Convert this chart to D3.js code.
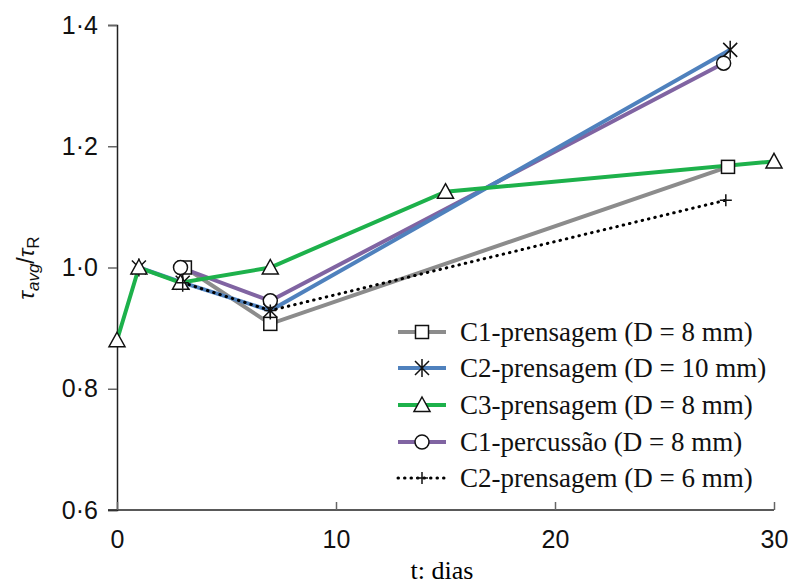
<!DOCTYPE html>
<html>
<head>
<meta charset="utf-8">
<script src="https://cdn.jsdelivr.net/npm/d3@7"></script>
<style>
  body { margin: 0; background: #fff; }
  svg { display: block; }
</style>
</head>
<body>
<svg id="chart" width="790" height="586"></svg>
<script>
// data
var seriesNames = ["C1-prensagem (D = 8 mm)", "C2-prensagem (D = 10 mm)", "C3-prensagem (D = 8 mm)", "C1-percussão (D = 8 mm)", "C2-prensagem (D = 6 mm)"];
var c1prensDays = [3.1, 7, 27.9];
var c1prensVals = [1.0, 0.907, 1.166];
var c2prens10Days = [1, 3, 7, 28];
var c2prens10Vals = [1.0, 0.975, 0.929, 1.359];
var c3prensDays = [0, 1, 2.9, 7, 15, 30];
var c3prensVals = [0.88, 1.0, 0.975, 1.0, 1.125, 1.175];
var c1percDays = [2.9, 7, 27.7];
var c1percVals = [1.0, 0.945, 1.337];
var c2prens6Days = [3, 7, 27.8];
var c2prens6Vals = [0.975, 0.929, 1.111];
var xTicks = [0, 10, 20, 30];
var yTicks = [0.6, 0.8, 1.0, 1.2, 1.4];

function zip(days, vals) { return days.map(function(d, i) { return {x: d, y: vals[i]}; }); }

var series = [
  {name: seriesNames[0], pts: zip(c1prensDays, c1prensVals), color: '#8c8c8c', marker: 'square', dash: null},
  {name: seriesNames[1], pts: zip(c2prens10Days, c2prens10Vals), color: '#4f81bd', marker: 'star', dash: null},
  {name: seriesNames[2], pts: zip(c3prensDays, c3prensVals), color: '#1db14b', marker: 'triangle', dash: null},
  {name: seriesNames[3], pts: zip(c1percDays, c1percVals), color: '#8064a2', marker: 'circle', dash: null},
  {name: seriesNames[4], pts: zip(c2prens6Days, c2prens6Vals), color: '#000', marker: 'plus', dash: '2,5'}
];
var drawOrder = [0, 3, 1, 2, 4];

var svg = d3.select('#chart');
var x = d3.scaleLinear().domain([0, 30]).range([117, 774]);
var y = d3.scaleLinear().domain([0.6, 1.4]).range([510, 25]);

var fmt = function(d) { return d3.format('.1f')(d).replace('.', '·'); };

var yAxis = svg.append('g').attr('transform', 'translate(117,0)')
  .call(d3.axisLeft(y).tickValues(yTicks).tickFormat(fmt).tickSizeOuter(0).tickSize(9).tickPadding(10));
var xAxis = svg.append('g').attr('transform', 'translate(0,510)')
  .call(d3.axisBottom(x).tickValues(xTicks).tickSizeOuter(0).tickSize(8).tickPadding(12));
[yAxis, xAxis].forEach(function(a) {
  a.select('.domain').attr('stroke', '#222').attr('stroke-width', 1.5);
  a.selectAll('.tick line').attr('stroke', '#666').attr('stroke-width', 1.5);
  a.selectAll('text').attr('fill', '#111').style('font-family', 'Liberation Sans, Arial, sans-serif').style('font-size', '25px');
});
xAxis.selectAll('.tick line').attr('y1', 0).attr('y2', -8);
// x axis runs a little left of the y axis like the original
xAxis.select('.domain').attr('d', 'M108,0H774');

// axis titles
svg.append('text')
  .attr('x', 442).attr('y', 579)
  .attr('text-anchor', 'middle')
  .style('font-family', 'Liberation Serif, Times New Roman, serif')
  .style('font-size', '26px')
  .text('t: dias');

var yl = svg.append('text')
  .attr('transform', 'translate(34,268) rotate(-90)')
  .attr('text-anchor', 'middle')
  .style('font-family', 'Liberation Sans, Arial, sans-serif')
  .style('font-size', '23px').attr('fill', '#111');
yl.append('tspan').style('font-style', 'italic').text('τ');
yl.append('tspan').style('font-style', 'italic').style('font-size', '17px').attr('dy', 5).text('avg');
yl.append('tspan').attr('dy', -5).text('/');
yl.append('tspan').style('font-style', 'italic').text('τ');
yl.append('tspan').style('font-size', '17px').attr('dy', 5).text('R');

var line = d3.line().x(function(d) { return x(d.x); }).y(function(d) { return y(d.y); });

drawOrder.forEach(function(i) {
  var s = series[i];
  svg.append('path').datum(s.pts)
    .attr('d', line)
    .attr('fill', 'none')
    .attr('stroke', s.color)
    .attr('stroke-width', s.dash ? 3 : 4)
    .attr('stroke-dasharray', s.dash ? '0.5,6' : null)
    .attr('stroke-linecap', s.dash ? 'round' : 'butt');
});

function drawMarker(g, type, cx, cy) {
  var m = g.append('g').attr('transform', 'translate(' + cx + ',' + cy + ')')
    .attr('fill', '#fff').attr('stroke', '#111').attr('stroke-width', 1.5);
  if (type === 'square') {
    m.append('rect').attr('x', -6.5).attr('y', -6.5).attr('width', 13).attr('height', 13);
  } else if (type === 'circle') {
    m.append('circle').attr('r', 7);
  } else if (type === 'triangle') {
    m.append('path').attr('d', 'M0,-8L8,6.5L-8,6.5Z');
  } else if (type === 'star') {
    m.append('path').attr('d', 'M-7,-7L7,7M-7,7L7,-7M0,-9L0,9');
  } else if (type === 'plus') {
    m.append('path').attr('d', 'M-6,0L6,0M0,-6L0,6');
  }
}

var marks = svg.append('g');
[0, 1, 2, 3, 4].forEach(function(i) {
  var s = series[i];
  s.pts.forEach(function(p) { drawMarker(marks, s.marker, x(p.x), y(p.y)); });
});

// legend
var legRows = [332, 368, 405, 442, 478];
var leg = svg.append('g');
series.forEach(function(s, i) {
  var ly = legRows[i];
  leg.append('line')
    .attr('x1', 398).attr('x2', 446).attr('y1', ly).attr('y2', ly)
    .attr('stroke', s.color)
    .attr('stroke-width', s.dash ? 3 : 4)
    .attr('stroke-dasharray', s.dash ? '0.5,6' : null)
    .attr('stroke-linecap', s.dash ? 'round' : 'butt');
  drawMarker(leg, s.marker, 422, ly);
  leg.append('text')
    .attr('x', 460).attr('y', ly + 9)
    .style('font-family', 'Liberation Serif, Times New Roman, serif')
    .style('font-size', '27px').attr('fill', '#111')
    .text(s.name);
});
</script>
</body>
</html>
